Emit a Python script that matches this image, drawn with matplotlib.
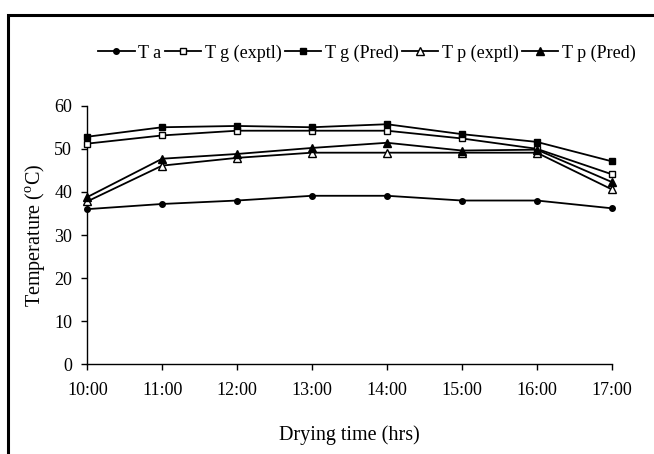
import matplotlib
matplotlib.use("Agg")
import matplotlib.pyplot as plt
from matplotlib.patches import Rectangle

plt.rcParams['font.family'] = ['Liberation Serif', 'DejaVu Serif']
plt.rcParams['mathtext.fontset'] = 'custom'
plt.rcParams['mathtext.rm'] = 'Liberation Serif'

# drying time categories
hours = ["10:00", "11:00", "12:00", "13:00", "14:00", "15:00", "16:00", "17:00"]

# temperatures (deg C)
ta = [36.0, 37.2, 38.0, 39.1, 39.1, 38.0, 38.0, 36.2]
tg_exptl = [51.2, 53.1, 54.2, 54.2, 54.2, 52.4, 50.0, 44.1]
tg_pred = [52.8, 55.0, 55.3, 55.0, 55.7, 53.4, 51.6, 47.1]
tp_exptl = [37.8, 46.1, 47.9, 49.1, 49.1, 49.1, 49.1, 40.6]
tp_pred = [38.8, 47.7, 48.8, 50.2, 51.4, 49.6, 49.8, 42.3]

fig = plt.figure(figsize=(6.54, 4.54), dpi=100)
ax = fig.add_axes([87.3 / 654, 89.7 / 454, 524.4 / 654, 258.6 / 454])

x = list(range(len(hours)))
series = [
    (ta, "T a", "o", "black", 4),
    (tg_exptl, "T g (exptl)", "s", "white", 4.5),
    (tg_pred, "T g (Pred)", "s", "black", 5),
    (tp_exptl, "T p (exptl)", "^", "white", 5.5),
    (tp_pred, "T p (Pred)", "^", "black", 5.5),
]
for vals, lab, mk, fc, ms in series:
    ax.plot(x, vals, color="black", lw=1.3, marker=mk, markersize=ms,
            markerfacecolor=fc, markeredgecolor="black", markeredgewidth=1,
            label=lab, clip_on=False, zorder=3)

ax.set_xlim(0, len(hours) - 1)
ax.set_ylim(0, 60)
ax.set_xticks(x)
ax.set_xticklabels(hours)
ax.set_yticks(range(0, 61, 10))
ax.tick_params(axis="both", labelsize=13, length=4, width=1, direction="out")
ax.tick_params(axis="x", pad=9)
ax.tick_params(axis="y", pad=7)
for s in ("top", "right"):
    ax.spines[s].set_visible(False)
for s in ("left", "bottom"):
    ax.spines[s].set_linewidth(1)

ax.set_ylabel("Temperature ($^\\mathrm{o}$C)", fontsize=14.5, labelpad=5)
ax.set_xlabel("Drying time (hrs)", fontsize=14.5, labelpad=19)

fig.legend(loc="center", bbox_to_anchor=(367 / 654, 1 - 53 / 454), ncol=5,
           frameon=False, fontsize=13, handlelength=2.0, handletextpad=0.2,
           columnspacing=0.2, borderaxespad=0)

# outer chart frame (right and bottom edges fall outside the image)
fig.add_artist(Rectangle((8 / 654, -0.2), 1.2, 1.2 - 15 / 454,
                         transform=fig.transFigure, fill=False,
                         edgecolor="black", lw=2.2))

fig.savefig("out.png", dpi=100)
